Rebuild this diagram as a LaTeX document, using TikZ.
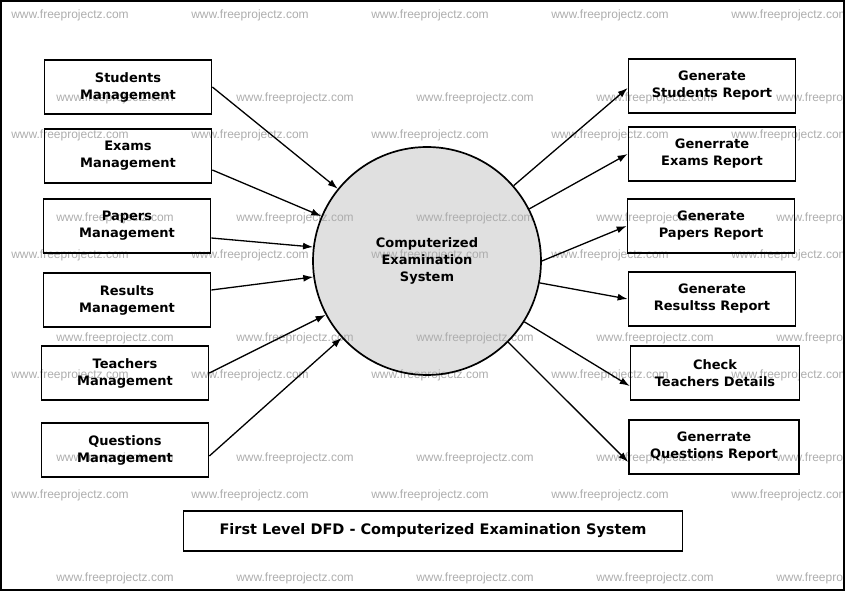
\documentclass[tikz,border=0pt]{standalone}
\usepackage{fontspec}
\setmainfont{DejaVu Sans}
\newfontfamily\markfont{Liberation Sans}
\usetikzlibrary{arrows.meta}
\pgfdeclarelayer{shade}
\pgfdeclarelayer{marks}
\pgfsetlayers{shade,marks,main}
\tikzset{every node/.style={font=\fontsize{13}{17}\selectfont\bfseries}}

\begin{document}
\begin{tikzpicture}[
  x=1pt, y=-1pt,
  entity/.style={draw, line width=1.7pt, minimum width=167pt, minimum height=54pt,
    align=center, inner sep=2pt},
  process/.style={shape=circle, draw, line width=1.7pt, minimum size=228pt,
    align=center},
  flow/.style={line width=1.3pt, -{Latex[length=10pt,width=7pt]}},
  wmark/.style={font=\fontsize{12}{14}\selectfont\markfont, text=black!32, inner sep=0pt}
% watermark rows alternate between two offsets
]
\useasboundingbox (0,0) rectangle (846,593);

% the background watermark
\begin{pgfonlayer}{marks}
\begin{scope}
\clip (1,1) rectangle (844,590);
\foreach \y in {15,135,255,375,495}
  \foreach \x in {70,250,430,610,790}
    \node[wmark] (wa-\x-\y) at (\x,\y) {www.freeprojectz.com};
\foreach \y in {98,218,338,458,578}
  \foreach \x in {115,295,475,655,835}
    \node[wmark] (wb-\x-\y) at (\x,\y) {www.freeprojectz.com};
\end{scope}
\end{pgfonlayer}

% central process
\node[process] (sys) at (427,261) {Computerized\\Examination\\System};
\begin{pgfonlayer}{shade}
\fill[black!12] (sys.center) circle[radius=114pt];
\end{pgfonlayer}

% sources
\node[entity] (stud)   at (128,87)  {Students\\Management};
\node[entity] (exam)   at (128,156) {Exams\\Management};
\node[entity] (paper)  at (127,226) {Papers\\Management};
\node[entity] (result) at (127,300) {Results\\Management};
\node[entity] (teach)  at (125,373) {Teachers\\Management};
\node[entity] (quest)  at (125,450) {Questions\\Management};

% outputs
\node[entity] (rstud)   at (712,86)  {Generate\\Students Report};
\node[entity] (rexam)   at (712,154) {Generrate\\Exams Report};
\node[entity] (rpaper)  at (711,226) {Generate\\Papers Report};
\node[entity] (rresult) at (712,299) {Generate\\Resultss Report};
\node[entity, minimum width=169pt] (rteach) at (715,373) {Check\\Teachers Details};
\node[entity, minimum width=170pt] (rquest) at (714,447) {Generrate\\Questions Report};

\node[entity, minimum width=499pt, minimum height=40pt,
  font=\fontsize{14.5}{18}\selectfont\bfseries] (title) at (433,531)
  {First Level DFD - Computerized Examination System};

% flows into the system
\draw[flow] (stud.east) -- (sys.141);
\draw[flow] ([yshift=-14pt]exam.east) -- (sys.157);
\draw[flow] ([yshift=-12pt]paper.east) -- (sys.173);
\draw[flow] ([yshift=10pt]result.east) -- (sys.188);
\draw[flow] (teach.east) -- (sys.208);
\draw[flow] ([yshift=-6pt]quest.east) -- (sys.222);

% flows out of the system
\draw[flow] (sys.41) -- ([yshift=-2pt]rstud.west);
\draw[flow] (sys.27.5) -- (rexam.west);
\draw[flow] (sys.0) -- (rpaper.west);
\draw[flow] (sys.-11) -- (rresult.west);
\draw[flow] (sys.-32) -- ([yshift=-13pt]rteach.west);
\draw[flow] (sys.-45) -- ([yshift=-15pt]rquest.west);

% frame
\draw[line width=2pt] (1,1) rectangle (844,590);
\end{tikzpicture}
\end{document}
